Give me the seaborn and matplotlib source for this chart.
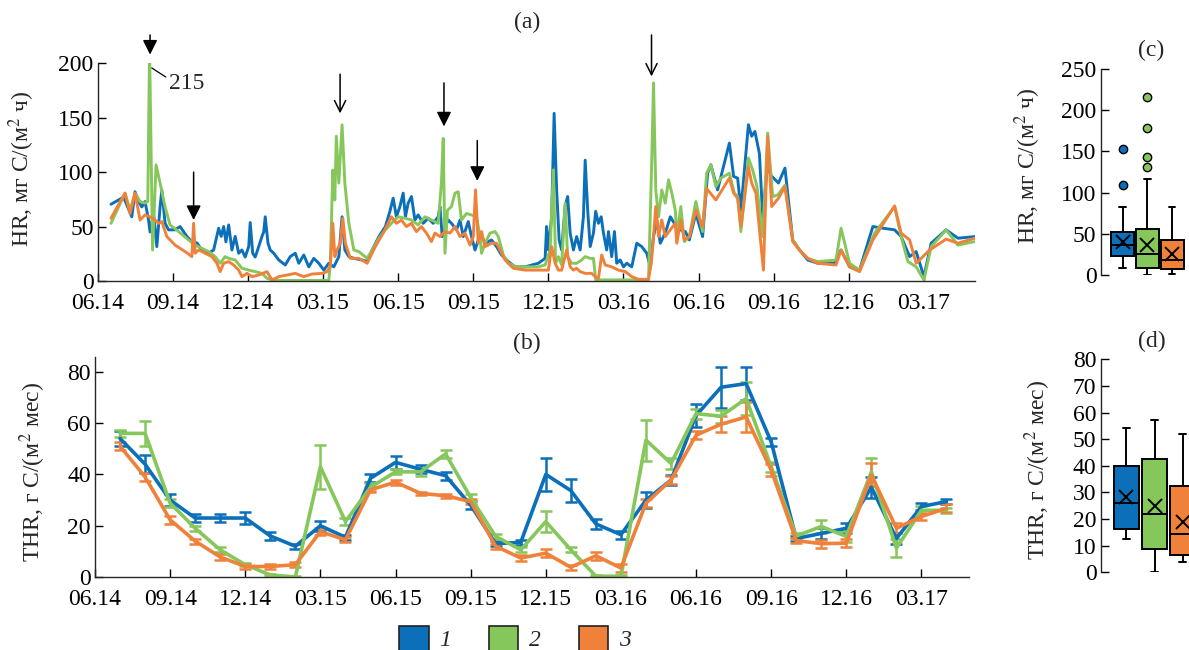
import matplotlib
matplotlib.use("Agg")
import matplotlib.pyplot as plt
from matplotlib.patches import Patch
import numpy as np
import pandas as pd
import seaborn as sns

# --- data -------------------------------------------------------------
# x in months since 01.06.2014
plots = ["1", "2", "3"]
colors = ["#0B6FBA", "#86C75B", "#F0813A"]
month_ticks = ["06.14", "09.14", "12.14", "03.15", "06.15", "09.15",
               "12.15", "03.16", "06.16", "09.16", "12.16", "03.17"]

# (a) daily HR, мг C/(м2 ч)
hr_t1 = [0.53, 1.03, 1.36, 1.49, 1.63, 1.76, 1.89, 2.03, 2.09, 2.23, 2.36, 2.49, 2.56, 2.69, 2.83,
         3.09, 3.29, 3.56, 3.76, 3.96, 4.16, 4.43, 4.63, 4.83, 4.93, 5.03, 5.12, 5.23, 5.36, 5.49,
         5.63, 5.76, 5.89, 6.03, 6.09, 6.19, 6.29, 6.43, 6.56, 6.63, 6.69, 6.80, 6.89, 7.03, 7.23,
         7.49, 7.69, 7.89, 8.03, 8.23, 8.43, 8.63, 8.83, 9.03, 9.23, 9.43, 9.63, 9.76, 9.87, 10.03,
         10.23, 10.56, 10.76, 10.96, 11.23, 11.49, 11.67, 11.80, 11.93, 12.07, 12.20, 12.29, 12.40,
         12.53, 12.67, 12.80, 13.00, 13.20, 13.40, 13.60, 13.67, 13.76, 13.87, 14.00, 14.13, 14.33,
         14.47, 14.60, 14.80, 14.93, 15.07, 15.20, 15.33, 15.47, 15.73, 15.93, 16.13, 16.40, 16.67,
         17.07, 17.60, 17.87, 17.93, 18.00, 18.13, 18.23, 18.33, 18.43, 18.53, 18.67, 18.77, 18.87,
         19.00, 19.13, 19.27, 19.40, 19.47, 19.57, 19.67, 19.80, 19.89, 20.00, 20.11, 20.20, 20.33,
         20.40, 20.53, 20.64, 20.73, 20.87, 21.00, 21.13, 21.33, 21.53, 21.73, 21.93, 22.07, 22.20,
         22.33, 22.47, 22.60, 22.73, 22.87, 23.07, 23.27, 23.47, 23.63, 23.89, 24.16, 24.36, 24.49,
         24.76, 25.23, 25.40, 25.56, 25.69, 25.99, 26.12, 26.25, 26.43, 26.56, 26.76, 26.89, 27.19,
         27.45, 27.76, 28.03, 28.36, 28.76, 29.43, 29.69, 30.03, 30.43, 30.96, 31.36, 31.83, 32.09,
         32.43, 32.69, 33.00, 33.29, 33.89, 34.36, 35.03]
hr_v1 = [70.5, 77, 59, 82, 73, 68, 73, 56, 45, 62, 31.6, 68, 83.7, 53, 47,
         47, 50, 41, 36, 35, 28.5, 25.5, 28.5, 48.5, 41, 50, 36, 51.5, 28.5, 41,
         25.5, 28.5, 22, 31.6, 53.7, 25.5, 22, 31.6, 41, 45, 59, 34.7, 28.5, 25.5, 19.3,
         14.7, 22.4, 25.5, 16.3, 23.9, 13, 20.8, 16.3, 10, 16.3, 13, 22.4, 59, 28.5, 22.4,
         20.8, 19.3, 17.8, 28.5, 40.8, 50, 64, 76, 59, 68.4, 80.7, 59, 71.5,
         77.6, 56, 60.7, 53, 57.7, 53, 59, 68.4, 40.8, 50, 56, 53, 47,
         56, 40.8, 54.6, 40.8, 28.5, 37.7, 40.8, 34.7, 37.7, 31.6, 23.9, 17.8, 13,
         13, 16.3, 20.8, 50, 28.5, 59, 154, 83.7, 37.7, 28.5, 68.4, 77.6, 44,
         28.5, 40.8, 28.5, 59, 111, 65, 31.6, 44, 64, 53, 59, 44, 28.5,
         45.4, 22.4, 45.4, 16.3, 19.3, 13, 16.3, 13, 34.7, 31.6, 25.5, 13, 40.8,
         56, 34.7, 40.8, 48.5, 59, 51.5, 47, 45.4, 37.7, 62, 40.8, 99, 106.7,
         83.7, 126.7, 96, 94.5, 65, 143.6, 133, 137.4, 117, 59, 108, 97, 90,
         103.7, 37.7, 28.5, 19.3, 16.3, 16.3, 28.5, 13, 10, 50, 48.5, 47, 40.8,
         22.4, 27, 4, 34.7, 47, 39.3, 40.8]

hr_t2 = [0.53, 1.09, 1.29, 1.49, 1.69, 1.89, 2.00, 2.07, 2.19, 2.33, 2.49, 2.69, 2.89, 3.23, 3.63,
         3.89, 4.16, 4.43, 4.69, 4.89, 5.09, 5.23, 5.49, 5.76, 6.03, 6.29, 6.56, 6.76, 6.96, 7.36,
         7.89, 8.56, 9.23, 9.29, 9.39, 9.47, 9.53, 9.63, 9.76, 9.87, 10.03, 10.23, 10.43, 10.76,
         10.96, 11.23, 11.49, 11.73, 12.00, 12.27, 12.53, 12.80, 13.07, 13.33, 13.60, 13.73, 13.80,
         13.87, 13.97, 14.13, 14.27, 14.40, 14.53, 14.73, 14.93, 15.13, 15.27, 15.33, 15.47, 15.67,
         15.87, 16.00, 16.20, 16.40, 16.73, 17.20, 17.60, 17.87, 18.07, 18.20, 18.29, 18.40, 18.53,
         18.67, 18.77, 18.93, 19.13, 19.33, 19.47, 19.67, 19.80, 19.89, 20.13, 20.80, 21.60, 22.00,
         22.13, 22.20, 22.29, 22.40, 22.53, 22.67, 22.80, 22.93, 23.07, 23.13, 23.29, 23.43, 23.63,
         23.89, 24.16, 24.32, 24.49, 24.69, 24.89, 25.23, 25.43, 25.56, 25.69, 25.99, 26.16, 26.33,
         26.56, 26.76, 26.96, 27.16, 27.45, 27.76, 28.03, 28.36, 28.76, 29.49, 29.69, 30.03, 30.43,
         31.03, 31.83, 32.09, 32.36, 32.69, 33.00, 33.29, 33.89, 34.36, 35.03]
hr_v2 = [53, 80.7, 65, 80.7, 73, 71.5, 73, 215, 28.5, 106.7, 90, 68, 51.5, 45.4, 37.7,
         33, 30, 27, 22.4, 16.3, 22.4, 20.8, 19.3, 11.7, 10, 8.6, 7, 2.5, 1, 0.5,
         0.5, 0.5, 0.5, 16.3, 102, 74.5, 133, 90, 143.5, 90, 53, 28.5, 27, 20.8,
         28.5, 39.3, 47, 53, 59, 57.7, 56, 51.5, 59, 56, 53, 91, 131,
         25.5, 65, 68.4, 80.7, 82, 56, 62, 60.7, 59, 40.8, 25.5, 34.7, 44,
         45.4, 40.8, 23.9, 16.3, 13, 13, 13, 14.7, 28.5, 102, 16.3, 22.4, 14.7,
         71.5, 22.4, 16.3, 16.3, 19.3, 22.4, 20.8, 20.8, 1, 1, 1, 1, 1,
         111, 182, 83.7, 59, 83.7, 71.5, 93, 80.7, 65, 40.8, 68.4, 36.2, 40.8,
         73, 45.4, 99, 106.7, 86.8, 94.5, 99, 80.7, 77.6, 45.4, 113, 102, 87,
         40.8, 136, 77.6, 79, 88, 37.7, 28.5, 20.8, 17.8, 19.3, 48.5, 16.3, 10,
         44, 68.4, 40.8, 17.8, 13, 1, 31.6, 47, 33, 36.2]

hr_t3 = [0.53, 1.09, 1.29, 1.49, 1.69, 1.89, 2.09, 2.29, 2.43, 2.56, 2.76, 3.09, 3.49, 3.76, 3.83,
         3.89, 4.03, 4.29, 4.56, 4.76, 4.89, 5.03, 5.23, 5.43, 5.63, 5.76, 5.96, 6.16, 6.43, 6.76,
         6.96, 7.23, 7.56, 7.89, 8.23, 8.56, 8.96, 9.16, 9.29, 9.39, 9.47, 9.56, 9.69, 9.79, 9.89,
         10.09, 10.43, 10.76, 11.09, 11.47, 11.73, 11.93, 12.13, 12.33, 12.53, 12.73, 12.93, 13.13,
         13.33, 13.47, 13.67, 13.87, 14.07, 14.27, 14.47, 14.67, 14.87, 15.00, 15.09, 15.20, 15.33,
         15.47, 15.73, 15.93, 16.07, 16.27, 16.60, 17.07, 17.60, 18.00, 18.13, 18.27, 18.40, 18.53,
         18.73, 18.87, 19.00, 19.13, 19.27, 19.47, 19.73, 19.87, 20.00, 20.13, 20.27, 20.53, 20.80,
         21.07, 21.33, 21.60, 22.00, 22.11, 22.20, 22.29, 22.40, 22.53, 22.67, 22.87, 23.07, 23.13,
         23.29, 23.43, 23.63, 23.89, 24.16, 24.32, 24.69, 25.23, 25.40, 25.56, 25.69, 25.99, 26.12,
         26.29, 26.59, 26.76, 26.92, 27.19, 27.45, 27.76, 28.03, 28.36, 28.76, 29.49, 29.69, 30.03,
         30.43, 30.96, 31.83, 32.09, 32.43, 32.69, 33.23, 33.89, 34.36, 35.03]
hr_v3 = [57.7, 80.7, 62, 80.7, 56, 60.7, 59, 56, 53, 54.6, 40.8, 33, 27, 22.4, 53,
         25.5, 28.5, 25.5, 22.4, 16.3, 8.6, 16.3, 17.8, 14.7, 10, 4, 7, 4, 5.5, 8.6,
         1, 4, 5.5, 7, 4, 6.4, 7, 8.6, 13, 53, 22.4, 28.5, 34.7, 57.7, 34.7,
         20.8, 20.8, 16.3, 31.6, 47, 59, 53, 56, 50, 53, 45.4, 50, 44,
         36.2, 44, 40.8, 45.4, 44, 50, 40.8, 44, 33, 40.8, 83.7, 34.7, 45.4,
         31.6, 34.7, 34.7, 28.5, 19.3, 11.7, 10, 10, 10, 31.6, 16.3, 10, 10,
         28.5, 13, 10, 11.7, 8.6, 7, 7, 4, 2.5, 23.9, 14.7, 13, 10,
         8.6, 4, 1.5, 1.5, 16.3, 40.8, 68.4, 40.8, 56, 40.8, 47, 53, 34.7,
         56, 37.7, 40.8, 65, 50, 85, 74.5, 94.5, 80.7, 76, 50, 105, 90,
         80.7, 10, 133, 68.4, 76, 86.8, 36.2, 28.5, 20.8, 16.3, 14.7, 28.5, 13,
         8.6, 37.7, 69, 44, 37.7, 16.3, 28.5, 38.5, 34.7, 39.3]

# (b) monthly THR, г C/(м2 мес), 07.14 ... 04.17
thr_month = list(range(1, 35))
thr1 = [54, 44, 30, 23, 23, 23, 16, 12, 20, 15.5, 38.5, 44.7, 42, 39.5, 28, 13, 13.5,
        40, 33.7, 20.7, 16.5, 30, 37.8, 63, 74, 75.4, 52.7, 15, 17, 19, 35, 15, 27.5, 29.4]
thr2 = [56, 56, 28.8, 19, 10.6, 4.8, 0.8, 0, 43, 21.6, 35, 41, 41, 48, 31, 15.8, 10.6,
        21.6, 10.6, 0.3, 0.3, 53.4, 44.3, 63.7, 62.7, 69.6, 43, 16, 19.7, 15.8, 41, 11.3, 26, 26]
thr3 = [51, 39, 22.3, 14, 7.8, 4.1, 4.1, 4.8, 17.7, 14.5, 34, 37, 32.6, 31.7, 29.4, 12, 7.4,
        9.3, 3.8, 8.3, 3.5, 28.8, 37.8, 55.3, 59.6, 62.4, 41.7, 14.2, 13, 13.2, 39.8, 19, 23.6, 26.8]
err1 = [3, 3.5, 2.5, 1.5, 1.5, 2.5, 1.5, 1, 2, 1, 1.5, 2.5, 1.5, 1.5, 1.5, 1, 1,
        6.5, 4.5, 2, 1.5, 3, 2, 4.5, 8, 6.5, 1.5, 1, 2, 2, 4, 2, 1.5, 1]
err2 = [1.5, 5, 1.5, 1, 1, 0.5, 0.3, 0.3, 8.5, 1.5, 1.5, 1, 1.5, 1.5, 1.5, 1, 1,
        4, 1, 0.3, 0.3, 8, 2, 2, 2.5, 6.5, 2, 1, 2.5, 2, 5.5, 3.5, 1.5, 1]
err3 = [1.5, 1.5, 1.5, 1, 1, 0.8, 1, 1, 1.5, 1, 1, 1, 0.7, 0.7, 1, 1, 1,
        1.5, 1, 1.5, 1.5, 1.5, 1.5, 1.5, 3, 6, 2.5, 1, 1.5, 1.5, 4.5, 2, 1.5, 1.5]

# (c), (d) box statistics: whislo, q1, med, mean, q3, whishi, outliers
hr_box = [[8.9, 23.5, 37, 40, 52, 82, [109, 153]],
          [0, 8, 26, 36, 55.4, 117, [130.7, 142.8, 178.8, 216.4]],
          [0.8, 7.7, 18, 26, 42.5, 82.5, []]]
thr_box = [[12.5, 16.3, 26, 28.4, 40, 54.3, []],
           [0, 8.8, 21.9, 25, 42.7, 57.2, []],
           [3.75, 6.5, 14.3, 19, 32.4, 52, []]]

# arrows in (a): month, tail, tip, filled head
arrows = [(2.09, 226, 208, True), (3.83, 100, 56, True), (9.68, 190, 154, False),
          (13.83, 182, 142, True), (15.16, 129, 92, True), (22.12, 226, 188, False)]

# --- style ------------------------------------------------------------
sns.set_theme(style="ticks")
plt.rcParams["font.family"] = ["Liberation Serif", "DejaVu Serif"]
plt.rcParams["mathtext.fontset"] = "stix"
plt.rcParams["axes.linewidth"] = 1.0
FS = 17

fig = plt.figure(figsize=(11.89, 6.5), dpi=100)
ax_a = fig.add_axes([0.0822, 0.5677, 0.7378, 0.3349])
ax_b = fig.add_axes([0.0799, 0.1123, 0.7351, 0.3385])
ax_c = fig.add_axes([0.9257, 0.5769, 0.0743, 0.3169])
ax_d = fig.add_axes([0.9257, 0.1195, 0.0743, 0.3277])

pal = dict(zip(plots, colors))

# (a)
hr = pd.concat([pd.DataFrame({"t": t, "v": v, "plot": p})
                for t, v, p in zip([hr_t1, hr_t2, hr_t3], [hr_v1, hr_v2, hr_v3], plots)])
sns.lineplot(data=hr, x="t", y="v", hue="plot", palette=pal, estimator=None,
             lw=2.1, legend=False, ax=ax_a)
ax_a.set_ylim(0, 200)
ax_a.set_yticks([0, 50, 100, 150, 200])
ax_a.set_xlim(0, 35.04)

for t, tail, tip, filled in arrows:
    ax_a.annotate("", xy=(t, tip), xytext=(t, tail), annotation_clip=False,
                  arrowprops=dict(arrowstyle="-|>" if filled else "->", color="black",
                                  lw=1.1, mutation_scale=22 if filled else 20,
                                  shrinkA=0, shrinkB=0))
ax_a.plot([2.16, 2.72], [195.7, 187.4], color="black", lw=0.9, clip_on=False)
ax_a.text(2.85, 181, "215", fontsize=FS, ha="left", va="center")

# (b)
thr = pd.concat([pd.DataFrame({"t": thr_month, "v": v, "plot": p})
                 for v, p in zip([thr1, thr2, thr3], plots)])
for v, e, c in zip([thr1, thr2, thr3], [err1, err2, err3], colors):
    ax_b.errorbar(thr_month, v, yerr=e, fmt="none", ecolor=c, elinewidth=1.8,
                  capsize=4.5, capthick=1.8)
sns.lineplot(data=thr, x="t", y="v", hue="plot", palette=pal, estimator=None,
             lw=2.6, legend=False, ax=ax_b)
ax_b.set_ylim(0, 85.8)
ax_b.set_yticks([0, 20, 40, 60, 80])
ax_b.set_xlim(0, 34.9)

for ax in (ax_a, ax_b):
    ax.set_xticks(range(0, 34, 3))
    ax.set_xticklabels(month_ticks)
    ax.set_xlabel("")
    ax.set_ylabel("")
    sns.despine(ax=ax)
    ax.tick_params(direction="in", length=6, width=1, labelsize=FS, colors="black")
    ax.tick_params(axis="x", pad=8.5)
    ax.tick_params(axis="y", pad=3)


# (c), (d)
def box_panel(ax, rows, width):
    stats = []
    for w0, q1, med, mean, q3, w1, fl in rows:
        stats.append(dict(whislo=w0, q1=q1, med=med, mean=mean, q3=q3, whishi=w1, fliers=fl))
    parts = ax.bxp(stats, positions=[1, 2, 3], widths=width, showmeans=True, patch_artist=True,
                   capwidths=0.25,
                   boxprops=dict(edgecolor="black", linewidth=1.4),
                   medianprops=dict(color="black", linewidth=1.4),
                   whiskerprops=dict(color="black", linewidth=1.4),
                   capprops=dict(color="black", linewidth=1.4),
                   meanprops=dict(marker="x", markeredgecolor="black", markersize=10,
                                  markeredgewidth=1.4),
                   flierprops=dict(marker="o", markeredgecolor="black", markersize=6))
    for box, fl, c in zip(parts["boxes"], parts["fliers"], colors):
        box.set_facecolor(c)
        fl.set_markerfacecolor(c)
    sns.despine(ax=ax, bottom=True)
    ax.set_xticks([])
    ax.tick_params(axis="y", direction="in", length=6, width=1, labelsize=FS, colors="black",
                   pad=3)


box_panel(ax_c, hr_box, 0.94)
ax_c.set_xlim(0.12, 3.67)
ax_c.set_ylim(0, 250)
ax_c.set_yticks([0, 50, 100, 150, 200, 250])

box_panel(ax_d, thr_box, 0.89)
ax_d.set_xlim(0.08, 3.23)
ax_d.set_ylim(0, 80)
ax_d.set_yticks(range(0, 81, 10))

# labels
lab_hr = "HR, мг C/(м$^2$ ч)"
lab_thr = "THR, г C/(м$^2$ мес)"
fig.text(0.0185, 0.741, lab_hr, rotation=90, ha="center", va="center", fontsize=FS)
fig.text(0.0278, 0.274, lab_thr, rotation=90, ha="center", va="center", fontsize=FS)
fig.text(0.8646, 0.745, lab_hr, rotation=90, ha="center", va="center", fontsize=FS)
fig.text(0.873, 0.277, lab_thr, rotation=90, ha="center", va="center", fontsize=FS)

fig.text(0.443, 0.966, "(a)", ha="center", va="center", fontsize=FS)
fig.text(0.443, 0.472, "(b)", ha="center", va="center", fontsize=FS)
fig.text(0.968, 0.923, "(c)", ha="center", va="center", fontsize=FS)
fig.text(0.969, 0.474, "(d)", ha="center", va="center", fontsize=FS)

handles = [Patch(facecolor=c, edgecolor="#222222", linewidth=1.2) for c in colors]
leg = fig.legend(handles, plots, loc="center", bbox_to_anchor=(0.433, 0.018), ncol=3,
                 frameon=False, handlelength=1.25, handleheight=1.25, handletextpad=0.45,
                 columnspacing=1.6, prop=dict(family="Liberation Serif", style="italic", size=FS))

fig.savefig("out.png", dpi=100)
